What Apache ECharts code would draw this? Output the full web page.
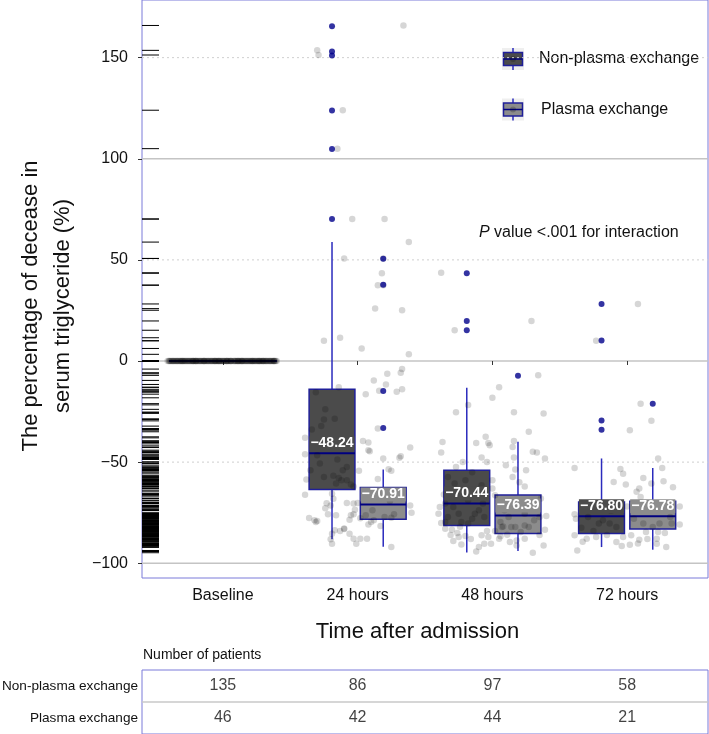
<!DOCTYPE html>
<html>
<head>
<meta charset="utf-8">
<script src="https://cdn.jsdelivr.net/npm/echarts@6/dist/echarts.min.js"></script>
<style>html,body{margin:0;padding:0;background:#fff}#c{width:709px;height:734px}</style>
</head>
<body>
<div id="c"></div>
<script>
// ---------------- DATA ----------------
const categories = ['Baseline', '24 hours', '48 hours', '72 hours'];
const groupNames = ['Non-plasma exchange', 'Plasma exchange'];
const patientsNonPlasma = [135, 86, 97, 58];
const patientsPlasma = [46, 42, 44, 21];
const yTicks = [-100, -50, 0, 50, 100, 150];
const majorGrid = [-100, 0, 100];
const minorGrid = [-50, 50, 150];

// box statistics (24 h, 48 h, 72 h)
const boxCategoryIndex = [2, 3, 4];
const npLow = [-88.2, -94.7, -92.0];
const npQ1 = [-63.5, -81.4, -85.3];
const npMedian = [-45.6, -70.44, -76.80];
const npQ3 = [-14.0, -54.0, -69.7];
const npHigh = [58.9, -13.2, -48.2];
const npLabel = [-48.24, -70.44, -76.80];

const pLow = [-91.8, -93.9, -93.3];
const pQ1 = [-78.3, -85.3, -83.1];
const pMedian = [-70.91, -76.39, -76.78];
const pQ3 = [-62.5, -66.3, -69.4];
const pHigh = [-53.6, -39.9, -52.9];
const pLabel = [-70.91, -76.39, -76.78];

// baseline: all values 0
const baselineValue = 0;

// outliers
const npOutliers24 = [165.5, 153.0, 151.0, 123.8, 104.8, 70.2];
const npOutliers48 = [43.4, 19.8, 15.2];
const npOutliers72 = [28.2, 10.1, -29.4, -34.0];
const pOutliers24 = [50.6, 37.7, -14.8, -33.1];
const pOutliers48 = [-7.3];
const pOutliers72 = [-21.2];

// jittered individual observations [x position on category scale, value]
const baselineJitterX = [0.59,0.60,0.62,0.63,0.63,0.65,0.66,0.67,0.69,0.70,0.70,0.72,0.73,0.74,0.75,0.77,0.78,0.78,0.80,0.81,0.82,0.83,0.85,0.86,0.86,0.88,0.89,0.90,0.91,0.93,0.94,0.94,0.96,0.97,0.98,0.99,1.00,1.01,1.02,1.03,1.05,1.06,1.06,1.08,1.09,1.10,1.11,1.13,1.14,1.14,1.16,1.17,1.18,1.19,1.21,1.22,1.22,1.24,1.25,1.26,1.27,1.29,1.30,1.30,1.32,1.33,1.34,1.35,1.37,1.38,1.38,1.39,1.40,0.64,0.71,0.76,0.84,0.92,1.04,1.12,1.20,1.28,1.36,0.68,0.79,0.87,0.95,1.07,1.15,1.23,1.31,
0.60,0.61,0.64,0.66,0.67,0.69,0.71,0.72,0.74,0.76,0.77,0.79,0.80,0.82,0.84,0.85,0.87,0.88,0.90,0.92,0.93,0.95,0.96,0.98,1.00,1.01,1.03,1.04,1.06,1.08,1.09,1.11,1.12,1.14,1.15,1.17,1.19,1.20,1.22,1.23,1.25,1.27,1.28,1.30,1.31,1.33,1.35,1.36,1.38,1.39,0.62,0.70,0.75,0.81,0.89,0.97,1.02,1.10,1.18,1.26,1.34,0.65,0.73,0.83,0.91,0.99,1.05,1.13,1.21,1.29,1.37,0.61,0.78,0.86,0.94,1.03,1.16,1.24,1.32,0.68,0.80,0.97,1.11,1.27];

const jitter24 = [
[1.70,153.6],[1.71,151.3],[1.89,124.0],[1.85,105.0],[2.34,165.9],
[1.96,70.2],[2.20,70.2],[2.38,58.8],[1.90,50.7],[2.19,50.7],[2.18,43.4],[2.15,37.5],[2.19,37.5],[2.13,25.9],[2.33,25.1],[1.75,10.0],[1.87,11.5],[2.03,6.2],[2.38,3.3],[2.33,-4.0],
[2.12,-9.6],[2.22,-6.3],[2.32,-5.8],[2.21,-11.6],[1.86,-13.0],[2.06,-16.4],[2.16,-14.7],[2.29,-15.2],[2.33,-14.0],[2.15,-33.4],[1.61,-38.0],[2.04,-39.6],[2.08,-40.3],[2.08,-44.1],[2.09,-44.6],[2.39,-42.8],[2.19,-48.2],[2.31,-47.9],[2.32,-47.1],[1.61,-46.1],[1.70,-46.6],[1.85,-48.7],[2.01,-54.3],[2.23,-53.5],[2.25,-54.3],[2.15,-58.3],[1.62,-58.6],[1.82,-56.7],[1.86,-57.8],[1.88,-59.0],[1.92,-59.0],[1.95,-61.1],[1.97,-62.0],[1.61,-66.1],[1.81,-65.7],[1.82,-68.1],[1.80,-71.4],[1.92,-70.2],[1.97,-70.5],[2.00,-70.2],[2.24,-69.2],[2.39,-71.4],[2.40,-75.0],[1.78,-75.8],[1.84,-76.3],[1.98,-73.5],[1.95,-76.3],[1.97,-75.8],[2.06,-76.3],[1.64,-77.6],[1.70,-79.1],[1.69,-79.6],[1.94,-78.5],[2.02,-77.8],[2.10,-79.6],[2.08,-80.8],[2.17,-81.6],[2.25,-77.5],[2.20,-77.1],[2.27,-75.8],[2.12,-78.8],[1.81,-85.4],[1.87,-84.1],[1.90,-83.1],[1.94,-85.4],[1.97,-87.9],[1.99,-90.4],[2.02,-87.9],[2.07,-87.9],[1.81,-90.4],[2.25,-92.0],[2.11,-73.8],
[1.69,-15.4],[1.76,-23.9],[1.73,-32.2],[1.75,-28.9],[1.83,-28.6],[1.66,-33.9],[1.89,-54.0],[1.92,-52.4],[1.72,-50.7],[1.75,-57.3],[1.84,-60.6],[1.65,-54.0],
[1.68,-78.8],[1.76,-72.8],[1.77,-70.4],[1.83,-83.7],[1.90,-82.8],[1.80,-88.2]
];

const jitter48 = [
[2.62,43.6],[2.72,15.2],[3.29,19.8],
[3.34,-7.1],[3.05,-13.0],[3.00,-18.2],[2.73,-25.3],[3.16,-25.4],[3.38,-25.9],[2.82,-21.7],[3.27,-35.0],[2.63,-40.0],[2.88,-40.5],[2.95,-37.5],[2.97,-40.5],[3.16,-39.5],[3.15,-42.5],[2.62,-45.3],[3.30,-44.9],[3.33,-45.3],[3.39,-48.2],[3.16,-47.7],[2.92,-47.7],[2.96,-49.9],[3.10,-51.5],[3.17,-53.7],[3.25,-54.0],[2.73,-52.4],[3.15,-57.3],[3.24,-62.0],[3.00,-59.0],[2.61,-72.2],[2.60,-75.5],[3.00,-63.1],[3.02,-66.4],[2.62,-80.1],[2.65,-82.9],[2.70,-83.4],[2.74,-85.1],[2.75,-87.0],[2.71,-89.0],[2.77,-90.7],[2.88,-94.2],[2.94,-90.4],[2.97,-87.0],[2.99,-90.4],[3.05,-87.9],[2.92,-86.2],[2.96,-84.1],[3.06,-86.7],[3.11,-85.9],[3.18,-88.7],[3.18,-91.2],[3.24,-87.9],[3.30,-94.8],[3.38,-91.2],[3.40,-76.6],[3.35,-77.1],[3.24,-81.4],[3.14,-82.1],[3.08,-81.8],[3.06,-79.6],[3.39,-83.4],
[2.67,-57.3],[2.72,-60.6],[2.80,-59.0],[2.87,-63.9],[2.92,-61.4],[2.70,-65.6],[2.82,-68.9],[2.90,-73.8],[2.75,-75.5],[2.67,-77.1],[2.85,-78.0],[2.94,-77.1],[2.65,-79.6],[2.77,-79.6],[2.87,-75.5],[2.71,-72.2],[2.82,-80.4],[2.93,-70.5],[2.65,-70.5],
[3.07,-82.1],[3.12,-77.1],[3.24,-75.5],[3.31,-78.8],[3.17,-82.1],[3.27,-82.1],[3.09,-73.8],[2.98,-41.6],
[2.80,-86.5],[2.84,-88.0],[3.02,-84.0],[3.13,-89.5],[2.69,-86.0],[3.21,-84.5],[2.90,-92.0],[3.35,-86.0],[2.76,-82.0],[3.10,-70.0],[2.64,-66.0],[3.36,-68.0],[2.78,-50.0],[2.85,-55.0],[3.20,-60.0]
];

const jitter72 = [
[4.08,28.2],[3.77,10.0],[4.10,-21.1],[4.18,-29.6],[4.02,-34.2],[3.61,-52.9],[4.23,-48.2],[4.26,-52.9],[3.95,-53.4],[3.97,-55.8],[4.12,-57.8],[3.90,-59.8],[3.99,-61.1],[4.09,-63.1],[4.07,-64.7],[4.10,-67.2],[4.18,-60.6],[4.27,-59.5],[4.34,-62.4],[4.39,-71.9],[4.39,-80.8],[4.33,-80.4],[3.61,-75.8],[3.62,-78.0],[3.61,-86.2],[3.63,-93.7],[3.67,-89.4],[3.70,-87.9],[3.77,-87.0],[3.92,-89.5],[3.97,-87.0],[4.03,-86.2],[4.02,-90.9],[4.08,-90.2],[4.09,-88.4],[4.14,-84.6],[4.22,-87.9],[4.23,-84.6],[4.22,-90.4],[4.29,-92.0],[3.96,-91.5],
[3.79,-80.4],[3.87,-80.4],[3.71,-77.1],[3.82,-78.8],[3.92,-82.1],[4.19,-82.1],[4.24,-80.4],[4.12,-80.4],[4.32,-77.1],
[3.75,-84.0],[3.85,-86.0],[4.05,-78.0],[4.15,-88.0],[3.66,-82.5],[4.00,-72.0],[3.88,-74.0],[4.28,-85.0]
];

// ---------------- STYLE ----------------
const FONT = '"Liberation Sans", Arial, sans-serif';
const panelBorder = '#7b7bd9';
const boxBorder = '#1f1f99';
const whiskerColor = '#2b2bbd';
const medianColor = '#000080';
const npFill = '#4b4b4b';
const pFill = '#8c8c8c';
const pointColor = 'rgba(0,0,0,0.2)';
const outlierColor = '#00008b';
const dodge = 0.19;
const boxHalf = 0.17;
const baselineHalf = 0.4;
const fmtNum = v => (v < 0 ? '\u2212' + Math.abs(v) : String(v));
const fmtLabel = v => (v < 0 ? '\u2212' + Math.abs(v).toFixed(2) : v.toFixed(2));

// ---------------- BUILD ----------------
const npBoxData = boxCategoryIndex.map((c, i) => [c - dodge, npLow[i], npQ1[i], npMedian[i], npQ3[i], npHigh[i], npLabel[i]]);
const pBoxData = boxCategoryIndex.map((c, i) => [c + dodge, pLow[i], pQ1[i], pMedian[i], pQ3[i], pHigh[i], pLabel[i]]);
const baselineBoxData = [[1, baselineValue, baselineValue, baselineValue, baselineValue, baselineValue, baselineValue]];

const npOutlierData = [];
[npOutliers24, npOutliers48, npOutliers72].forEach((arr, i) => arr.forEach(v => npOutlierData.push([boxCategoryIndex[i] - dodge, v])));
const pOutlierData = [];
[pOutliers24, pOutliers48, pOutliers72].forEach((arr, i) => arr.forEach(v => pOutlierData.push([boxCategoryIndex[i] + dodge, v])));

const baselinePoints = baselineJitterX.map(x => [x, baselineValue]);
const allPoints = baselinePoints.concat(jitter24, jitter48, jitter72);
const rugData = allPoints.map(p => [p[1]]);

function boxRenderer(fill, half) {
  return function (params, api) {
    const x = api.value(0), lo = api.value(1), q1 = api.value(2), md = api.value(3), q3 = api.value(4), hi = api.value(5);
    const tl = api.coord([x - half, q3]), br = api.coord([x + half, q1]);
    const a = api.coord([x, hi]), b = api.coord([x, q3]), c = api.coord([x, q1]), d = api.coord([x, lo]);
    const ml = api.coord([x - half, md]), mr = api.coord([x + half, md]);
    return {
      type: 'group',
      children: [
        { type: 'line', shape: { x1: a[0], y1: a[1], x2: b[0], y2: b[1] }, style: { stroke: whiskerColor, lineWidth: 1.5 } },
        { type: 'line', shape: { x1: c[0], y1: c[1], x2: d[0], y2: d[1] }, style: { stroke: whiskerColor, lineWidth: 1.5 } },
        { type: 'rect', shape: { x: tl[0], y: tl[1], width: br[0] - tl[0], height: br[1] - tl[1] }, style: { fill: fill, stroke: boxBorder, lineWidth: 1.5 } },
        { type: 'line', shape: { x1: ml[0], y1: ml[1], x2: mr[0], y2: mr[1] }, style: { stroke: medianColor, lineWidth: 2 } }
      ]
    };
  };
}
function labelRenderer(fill) {
  return function (params, api) {
    const p = api.coord([api.value(0), api.value(3)]);
    return {
      type: 'text', x: p[0], y: p[1] - 10,
      style: { text: fmtLabel(api.value(6)), fill: '#fff', font: 'bold 14px ' + FONT, align: 'center', verticalAlign: 'middle', backgroundColor: fill, padding: [0, 1] }
    };
  };
}
function gridLineRenderer(dashed) {
  return function (params, api) {
    const cs = params.coordSys;
    const p = api.coord([1, api.value(0)]);
    return { type: 'line', shape: { x1: cs.x, y1: p[1], x2: cs.x + cs.width, y2: p[1] },
      style: dashed ? { stroke: '#cfcfcf', lineWidth: 1, lineDash: [2, 3] } : { stroke: '#c4c4c4', lineWidth: 1.5 } };
  };
}

const chart = echarts.init(document.getElementById('c'), null, { renderer: 'canvas' });
chart.setOption({
  backgroundColor: '#fff',
  animation: false,
  textStyle: { fontFamily: FONT },
  grid: [
    { left: 142, right: 1, top: 0, bottom: 156, show: true, borderColor: panelBorder, borderWidth: 1, backgroundColor: 'transparent', outerBoundsMode: 'none', containLabel: false },
    { left: 142, right: 1, top: 670, height: 64, show: true, borderColor: panelBorder, borderWidth: 1, outerBoundsMode: 'none', containLabel: false }
  ],
  xAxis: [
    {
      type: 'value', gridIndex: 0, min: 0.4, max: 4.6,
      axisLine: { show: false }, splitLine: { show: false },
      axisTick: { show: true, length: 4, lineStyle: { color: '#333' }, customValues: [1, 2, 3, 4] },
      axisLabel: { customValues: [1, 2, 3, 4], formatter: v => categories[Math.round(v) - 1] || '', fontSize: 16, color: '#111', margin: 10, fontFamily: FONT },
      name: 'Time after admission', nameLocation: 'middle', nameGap: 43,
      nameTextStyle: { fontSize: 22, color: '#111', fontFamily: FONT, padding: [0, 15, 0, 0] }
    },
    { type: 'value', gridIndex: 1, min: 0.4, max: 4.6, show: false }
  ],
  yAxis: [
    {
      type: 'value', gridIndex: 0, min: -107.3, max: 178.5,
      axisLine: { show: false }, splitLine: { show: false },
      axisTick: { show: true, length: 4, lineStyle: { color: '#333' }, customValues: yTicks },
      axisLabel: { customValues: yTicks, formatter: fmtNum, fontSize: 16, color: '#111', margin: 14, fontFamily: FONT }
    },
    {
      type: 'category', gridIndex: 1, data: groupNames, inverse: true,
      axisLine: { show: false }, axisTick: { show: false }, splitLine: { show: false },
      axisLabel: { fontSize: 13.6, color: '#111', margin: 4, fontFamily: FONT }
    }
  ],
  series: [
    { type: 'custom', name: 'major grid', xAxisIndex: 0, yAxisIndex: 0, data: majorGrid.map(v => [v]), encode: { y: 0 }, renderItem: gridLineRenderer(false), z: 0, silent: true },
    { type: 'custom', name: 'minor grid', xAxisIndex: 0, yAxisIndex: 0, data: minorGrid.map(v => [v]), encode: { y: 0 }, renderItem: gridLineRenderer(true), z: 0, silent: true },
    { type: 'custom', name: 'rug', xAxisIndex: 0, yAxisIndex: 0, data: rugData, encode: { y: 0 }, z: 1, silent: true,
      renderItem: function (params, api) {
        const cs = params.coordSys; const p = api.coord([1, api.value(0)]);
        return { type: 'line', shape: { x1: cs.x, y1: p[1], x2: cs.x + 17, y2: p[1] }, style: { stroke: '#000', lineWidth: 1 } };
      } },
    { type: 'custom', name: 'Baseline box', xAxisIndex: 0, yAxisIndex: 0, data: baselineBoxData, encode: { x: 0, y: [1, 5] }, renderItem: boxRenderer('none', baselineHalf), z: 2, silent: true },
    { type: 'custom', name: groupNames[0], xAxisIndex: 0, yAxisIndex: 0, data: npBoxData, encode: { x: 0, y: [1, 5] }, renderItem: boxRenderer(npFill, boxHalf), z: 2, silent: true },
    { type: 'custom', name: groupNames[1], xAxisIndex: 0, yAxisIndex: 0, data: pBoxData, encode: { x: 0, y: [1, 5] }, renderItem: boxRenderer(pFill, boxHalf), z: 2, silent: true },
    { type: 'scatter', name: 'observations', xAxisIndex: 0, yAxisIndex: 0, data: allPoints, symbolSize: 6.5, itemStyle: { color: pointColor }, z: 3, silent: true },
    { type: 'scatter', name: 'outliers np', xAxisIndex: 0, yAxisIndex: 0, data: npOutlierData, symbolSize: 6, itemStyle: { color: outlierColor }, z: 4, silent: true },
    { type: 'scatter', name: 'outliers p', xAxisIndex: 0, yAxisIndex: 0, data: pOutlierData, symbolSize: 6, itemStyle: { color: outlierColor }, z: 4, silent: true },
    { type: 'custom', name: 'np labels', xAxisIndex: 0, yAxisIndex: 0, data: npBoxData, encode: { x: 0, y: 3 }, renderItem: labelRenderer(npFill), z: 5, silent: true },
    { type: 'custom', name: 'p labels', xAxisIndex: 0, yAxisIndex: 0, data: pBoxData, encode: { x: 0, y: 3 }, renderItem: labelRenderer(pFill), z: 5, silent: true },
    // table
    { type: 'scatter', name: 'n non-plasma', xAxisIndex: 1, yAxisIndex: 1, symbolSize: 1, itemStyle: { color: 'transparent' },
      data: patientsNonPlasma.map((n, i) => [i + 1, groupNames[0], n]),
      label: { show: true, position: 'inside', formatter: p => String(p.value[2]), fontSize: 16, color: '#111', fontFamily: FONT }, silent: true },
    { type: 'scatter', name: 'n plasma', xAxisIndex: 1, yAxisIndex: 1, symbolSize: 1, itemStyle: { color: 'transparent' },
      data: patientsPlasma.map((n, i) => [i + 1, groupNames[1], n]),
      label: { show: true, position: 'inside', formatter: p => String(p.value[2]), fontSize: 16, color: '#111', fontFamily: FONT }, silent: true },
    { type: 'custom', name: 'table divider', xAxisIndex: 1, yAxisIndex: 1, data: [[1, groupNames[0]]], silent: true,
      renderItem: function (params, api) {
        const cs = params.coordSys; const p = api.coord([1, api.value(1)]); const h = api.size([0, 1])[1];
        return { type: 'line', shape: { x1: cs.x, y1: p[1] + h / 2, x2: cs.x + cs.width, y2: p[1] + h / 2 }, style: { stroke: '#c8c8c8', lineWidth: 1.5 } };
      } }
  ],
  graphic: [
    { type: 'text', x: 47, y: 306, rotation: Math.PI / 2,
      style: { text: 'The percentage of decease in\nserum triglyceride (%)', font: '22px ' + FONT, fill: '#111', align: 'center', verticalAlign: 'middle', lineHeight: 32 } },
    { type: 'text', x: 143, y: 655, style: { text: 'Number of patients', font: '14px ' + FONT, fill: '#111', align: 'left', verticalAlign: 'middle' } },
    { type: 'text', x: 479, y: 233,
      style: { text: '{i|P} value <.001 for interaction', font: '16px ' + FONT, fill: '#111', verticalAlign: 'middle',
        rich: { i: { fontStyle: 'italic', fontSize: 16, fontFamily: FONT, fill: '#111' } } } },
    // legend key 1
    { type: 'group', x: 502, y: 48, children: [
      { type: 'rect', shape: { x: 0, y: 0, width: 22, height: 22 }, style: { fill: '#efefef' } },
      { type: 'line', shape: { x1: 11, y1: 0, x2: 11, y2: 22 }, style: { stroke: whiskerColor, lineWidth: 1.5 } },
      { type: 'rect', shape: { x: 1.5, y: 4.5, width: 19, height: 13 }, style: { fill: npFill, stroke: boxBorder, lineWidth: 1.5 } },
      { type: 'line', shape: { x1: 1.5, y1: 11, x2: 20.5, y2: 11 }, style: { stroke: medianColor, lineWidth: 1.5 } },
      { type: 'circle', shape: { cx: 11, cy: 11, r: 3 }, style: { fill: pointColor } }
    ] },
    { type: 'text', x: 539, y: 59, style: { text: groupNames[0], font: '16px ' + FONT, fill: '#111', verticalAlign: 'middle' } },
    // legend key 2
    { type: 'group', x: 502, y: 98.5, children: [
      { type: 'rect', shape: { x: 0, y: 0, width: 22, height: 22 }, style: { fill: '#efefef' } },
      { type: 'line', shape: { x1: 11, y1: 0, x2: 11, y2: 22 }, style: { stroke: whiskerColor, lineWidth: 1.5 } },
      { type: 'rect', shape: { x: 1.5, y: 4.5, width: 19, height: 13 }, style: { fill: pFill, stroke: boxBorder, lineWidth: 1.5 } },
      { type: 'line', shape: { x1: 1.5, y1: 11, x2: 20.5, y2: 11 }, style: { stroke: medianColor, lineWidth: 1.5 } },
      { type: 'circle', shape: { cx: 11, cy: 11, r: 3 }, style: { fill: pointColor } }
    ] },
    { type: 'text', x: 541, y: 109.5, style: { text: groupNames[1], font: '16px ' + FONT, fill: '#111', verticalAlign: 'middle' } }
  ]
});
</script>
</body>
</html>
